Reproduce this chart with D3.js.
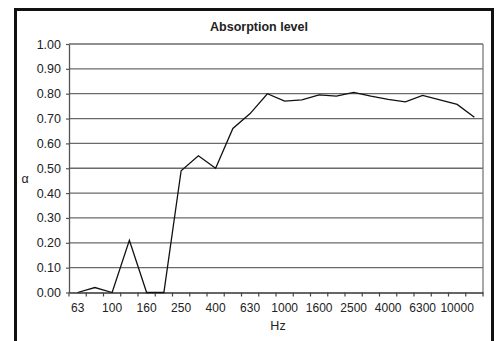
<!DOCTYPE html>
<html>
<head>
<meta charset="utf-8">
<script src="https://cdn.jsdelivr.net/npm/d3@7"></script>
<style>
  html, body { margin: 0; padding: 0; background: #fff; }
  svg { display: block; }
  text { font-family: "Liberation Sans", Arial, sans-serif; fill: #222; }
</style>
</head>
<body>
<script>
// Data
const frequencies = ["63","80","100","125","160","200","250","315","400","500","630","800","1000","1250","1600","2000","2500","3150","4000","5000","6300","8000","10000","12500"];
const absorption = [0.00,0.02,0.00,0.21,0.00,0.00,0.49,0.55,0.50,0.66,0.72,0.80,0.77,0.775,0.795,0.79,0.805,0.79,0.777,0.767,0.793,0.775,0.757,0.705];
const xTickLabels = ["63","100","160","250","400","630","1000","1600","2500","4000","6300","10000"];
const yTicks = [0,0.1,0.2,0.3,0.4,0.5,0.6,0.7,0.8,0.9,1.0];
const titleText = "Absorption level";
const xTitle = "Hz";
const yTitle = "α";

const W = 497, H = 341;
const plot = {left: 69, right: 483, top: 44, bottom: 292.5};

const svg = d3.select("body").append("svg").attr("width", W).attr("height", H);
svg.append("rect").attr("width", W).attr("height", H).attr("fill", "#fff");

// outer frame (open at bottom, cropped)
svg.append("path")
  .attr("d", `M15.5,${H+5} L15.5,9.5 L492.5,9.5 L492.5,${H+5}`)
  .attr("fill", "none").attr("stroke", "#111").attr("stroke-width", 3);

const x = d3.scaleBand().domain(frequencies).range([plot.left, plot.right]).padding(0);
const y = d3.scaleLinear().domain([0, 1]).range([plot.bottom, plot.top]);

// gridlines
svg.append("g").selectAll("line").data(yTicks.filter(d => d > 0)).join("line")
  .attr("x1", plot.left).attr("x2", plot.right)
  .attr("y1", d => y(d)).attr("y2", d => y(d))
  .attr("stroke", "#6a6a6a").attr("stroke-width", 1.3);

// right plot border
svg.append("line")
  .attr("x1", plot.right).attr("x2", plot.right)
  .attr("y1", plot.top).attr("y2", plot.bottom)
  .attr("stroke", "#7a7a7a").attr("stroke-width", 1.3);

// y axis
const yAxis = d3.axisLeft(y).tickValues(yTicks).tickFormat(d3.format(".2f"))
  .tickSizeInner(3).tickSizeOuter(0).tickPadding(5);
const gy = svg.append("g").attr("transform", `translate(${plot.left},0)`).call(yAxis);
gy.select(".domain").attr("stroke", "#555").attr("stroke-width", 1.3);
gy.selectAll(".tick line").attr("stroke", "#555").attr("stroke-width", 1.2);
gy.selectAll("text").style("font-size", "12.5px").attr("fill", "#222");

// x axis
const xAxis = d3.axisBottom(x)
  .tickFormat(d => xTickLabels.includes(d) ? d : "")
  .tickSizeInner(0).tickSizeOuter(0).tickPadding(11);
const gx = svg.append("g").attr("transform", `translate(0,${plot.bottom})`).call(xAxis);
gx.select(".domain").attr("stroke", "#333").attr("stroke-width", 1.3);
gx.selectAll("text").style("font-size", "12px").attr("fill", "#222");

// boundary tick marks between categories
const boundaries = frequencies.map(f => x(f)).concat([x(frequencies[frequencies.length-1]) + x.bandwidth()]);
svg.append("g").selectAll("line").data(boundaries).join("line")
  .attr("x1", d => d).attr("x2", d => d)
  .attr("y1", plot.bottom).attr("y2", plot.bottom + 4)
  .attr("stroke", "#444").attr("stroke-width", 1.2);

// data line
const line = d3.line()
  .x((d, i) => x(frequencies[i]) + x.bandwidth() / 2)
  .y(d => y(d));
svg.append("path").datum(absorption)
  .attr("d", line)
  .attr("fill", "none").attr("stroke", "#111").attr("stroke-width", 1.3)
  .attr("stroke-linejoin", "miter");

// titles
svg.append("text").attr("x", 259).attr("y", 31).attr("text-anchor", "middle")
  .style("font-size", "12.5px").style("font-weight", "bold").text(titleText);
svg.append("text").attr("x", 278).attr("y", 330).attr("text-anchor", "middle")
  .style("font-size", "12.5px").text(xTitle);
svg.append("text").attr("x", 25).attr("y", 183).attr("text-anchor", "middle")
  .style("font-size", "12.5px").text(yTitle);
</script>
</body>
</html>
